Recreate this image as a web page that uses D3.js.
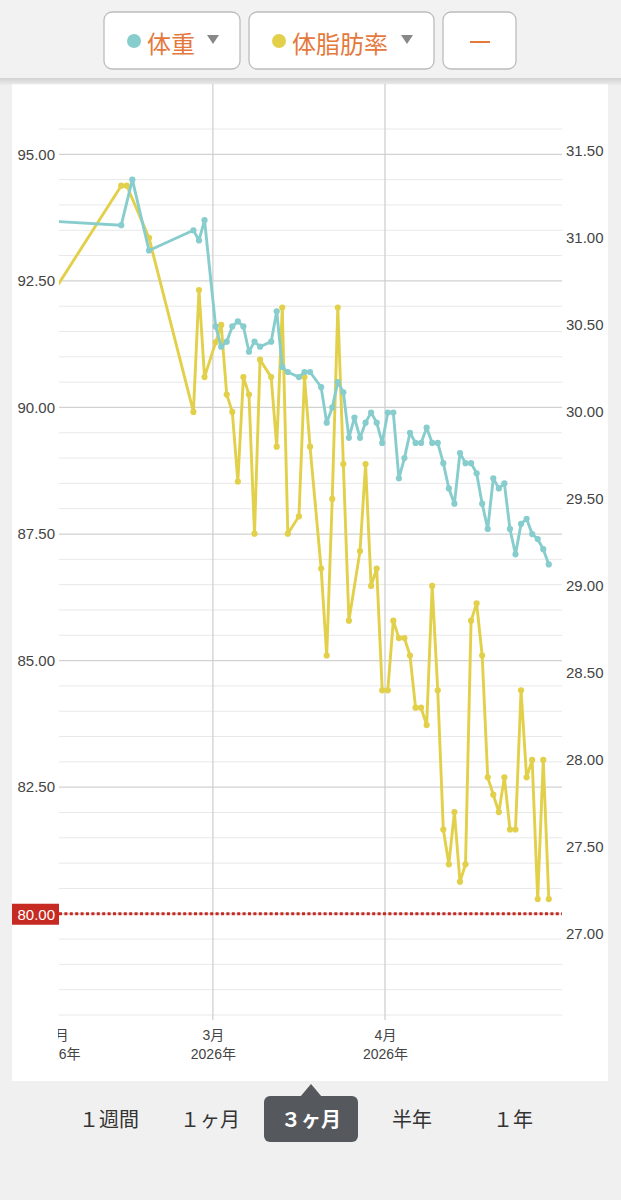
<!DOCTYPE html>
<html>
<head>
<meta charset="utf-8">
<script src="https://cdn.jsdelivr.net/npm/d3@7"></script>
<style>
html, body { margin: 0; padding: 0; background: #f0f0f0; }
svg { display: block; }
</style>
</head>
<body>
<div id="chart"></div>
<script>
// weight (kg), one reading a day
const weightDates = ["2026-01-27","2026-02-12","2026-02-14","2026-02-17","2026-02-25","2026-02-26","2026-02-27",
  "2026-03-01","2026-03-02","2026-03-03","2026-03-04","2026-03-05","2026-03-06","2026-03-07","2026-03-08","2026-03-09",
  "2026-03-11","2026-03-12","2026-03-13","2026-03-14","2026-03-16","2026-03-17","2026-03-18","2026-03-20","2026-03-21",
  "2026-03-22","2026-03-23","2026-03-24","2026-03-25","2026-03-26","2026-03-27","2026-03-28","2026-03-29","2026-03-30",
  "2026-03-31","2026-04-01","2026-04-02","2026-04-03","2026-04-04","2026-04-05","2026-04-06","2026-04-07","2026-04-08",
  "2026-04-09","2026-04-10","2026-04-11","2026-04-12","2026-04-13","2026-04-14","2026-04-15","2026-04-16","2026-04-17",
  "2026-04-18","2026-04-19","2026-04-20","2026-04-21","2026-04-22","2026-04-23","2026-04-24","2026-04-25","2026-04-26",
  "2026-04-27","2026-04-28","2026-04-29","2026-04-30"]
const weightValues = [93.7,93.6,94.5,93.1,93.5,93.3,93.7,
  91.6,91.2,91.3,91.6,91.7,91.6,91.1,91.3,91.2,
  91.3,91.9,90.8,90.7,90.6,90.7,90.7,90.4,89.7,
  90.0,90.5,90.3,89.4,89.8,89.4,89.7,89.9,89.7,
  89.3,89.9,89.9,88.6,89.0,89.5,89.3,89.3,89.6,
  89.3,89.3,88.9,88.4,88.1,89.1,88.9,88.9,88.7,
  88.1,87.6,88.6,88.4,88.5,87.6,87.1,87.7,87.8,
  87.5,87.4,87.2,86.9]

// body fat (%)
const fatDates = ["2026-01-27","2026-02-12","2026-02-13","2026-02-17","2026-02-25","2026-02-26","2026-02-27",
  "2026-03-01","2026-03-02","2026-03-03","2026-03-04","2026-03-05","2026-03-06","2026-03-07","2026-03-08","2026-03-09",
  "2026-03-11","2026-03-12","2026-03-13","2026-03-14","2026-03-16","2026-03-17","2026-03-18","2026-03-20","2026-03-21",
  "2026-03-22","2026-03-23","2026-03-24","2026-03-25","2026-03-27","2026-03-28","2026-03-29","2026-03-30",
  "2026-03-31","2026-04-01","2026-04-02","2026-04-03","2026-04-04","2026-04-05","2026-04-06","2026-04-07","2026-04-08",
  "2026-04-09","2026-04-10","2026-04-11","2026-04-12","2026-04-13","2026-04-14","2026-04-15","2026-04-16","2026-04-17",
  "2026-04-18","2026-04-19","2026-04-20","2026-04-21","2026-04-22","2026-04-23","2026-04-24","2026-04-25","2026-04-26",
  "2026-04-27","2026-04-28","2026-04-29","2026-04-30"]
const fatValues = [30.5,31.3,31.3,31.0,30.0,30.7,30.2,
  30.4,30.5,30.1,30.0,29.6,30.2,30.1,29.3,30.3,
  30.2,29.8,30.6,29.3,29.4,30.2,29.8,29.1,28.6,
  29.5,30.6,29.7,28.8,29.2,29.7,29.0,29.1,
  28.4,28.4,28.8,28.7,28.7,28.6,28.3,28.3,28.2,
  29.0,28.4,27.6,27.4,27.7,27.3,27.4,28.8,28.9,
  28.6,27.9,27.8,27.7,27.9,27.6,27.6,28.4,27.9,
  28.0,27.2,28.0,27.2]

const leftTicks = [82.5, 85, 87.5, 90, 92.5, 95]
const rightTicks = [27, 27.5, 28, 28.5, 29, 29.5, 30, 30.5, 31, 31.5]
const monthTicks = ["2026-02-01","2026-03-01","2026-04-01"]
const targetWeight = 80
const seriesNames = ["体重", "体脂肪率"]
const seriesColours = ["#88cdcd", "#e2d04a"]
const periods = ["１週間", "１ヶ月", "３ヶ月", "半年", "１年"]
const selectedPeriod = "３ヶ月"

const W = 621, H = 1200
const plot = {left: 59, right: 562, top: 129, bottom: 1015}
const numFont = "'Liberation Sans', Arial, 'Noto Sans CJK JP', sans-serif"
const jpFont = "'Noto Sans CJK JP', 'Noto Sans', sans-serif"
const orange = "#e5793d"

let parseDay = d3.timeParse("%Y-%m-%d")
// readings are taken around midday
let atNoon = s => d3.timeHour.offset(parseDay(s), 12)

let weight = weightDates.map((d, i) => ({date: atNoon(d), v: weightValues[i]}))
let fat = fatDates.map((d, i) => ({date: atNoon(d), v: fatValues[i]}))

let x = d3.scaleTime()
    .domain([new Date(2026, 1, 1, 7), new Date(2026, 4, 2, 21)])
    .range([plot.left, plot.right])
let yLeft = d3.scaleLinear().domain([78, 95.5]).range([plot.bottom, plot.top])
let yRight = d3.scaleLinear().domain([26.534, 31.626]).range([plot.bottom, plot.top])

let svg = d3.select("#chart").append("svg")
    .attr("width", W).attr("height", H)

let defs = svg.append("defs")
defs.append("clipPath").attr("id", "plot-clip")
    .append("rect").attr("x", plot.left).attr("y", 84)
    .attr("width", plot.right - plot.left).attr("height", 940)
defs.append("clipPath").attr("id", "label-clip")
    .append("rect").attr("x", 58).attr("y", 1015).attr("width", 550).attr("height", 65)
let grad = defs.append("linearGradient").attr("id", "shadow")
    .attr("x1", 0).attr("y1", 0).attr("x2", 0).attr("y2", 1)
grad.append("stop").attr("offset", 0).attr("stop-color", "#000").attr("stop-opacity", 0.13)
grad.append("stop").attr("offset", 1).attr("stop-color", "#000").attr("stop-opacity", 0)

// background + card
svg.append("rect").attr("width", W).attr("height", H).attr("fill", "#f0f0f0")
svg.append("rect").attr("x", 12).attr("y", 84).attr("width", 596).attr("height", 997).attr("fill", "#fff")

// header
svg.append("rect").attr("width", W).attr("height", 78).attr("fill", "#f2f2f2")
svg.append("rect").attr("y", 78).attr("width", W).attr("height", 8).attr("fill", "url(#shadow)")

let buttons = [
    {x: 104, w: 136, name: seriesNames[0], colour: seriesColours[0]},
    {x: 249, w: 185, name: seriesNames[1], colour: seriesColours[1]},
    {x: 443, w: 73, name: null}
]
let btn = svg.selectAll("g.btn").data(buttons).join("g").attr("class", "btn")
btn.append("rect")
    .attr("x", d => d.x).attr("y", 12).attr("width", d => d.w).attr("height", 57)
    .attr("rx", 8).attr("fill", "#fff").attr("stroke", "#bcbcbc").attr("stroke-width", 1.3)
btn.filter(d => d.name).each(function(d){
    let g = d3.select(this)
    g.append("circle").attr("cx", d.x + 30).attr("cy", 41).attr("r", 7).attr("fill", d.colour)
    g.append("text").attr("x", d.x + 43).attr("y", 42)
        .attr("dominant-baseline", "central")
        .attr("font-family", jpFont).attr("font-size", 24).attr("fill", orange)
        .text(d.name)
    let tx = d.x + d.w - 27
    g.append("path").attr("d", `M${tx - 6},35 L${tx + 6},35 L${tx},44 Z`).attr("fill", "#888")
})
svg.append("line").attr("x1", 470).attr("x2", 490).attr("y1", 42).attr("y2", 42)
    .attr("stroke", orange).attr("stroke-width", 2)

// horizontal grid, every 0.5 kg
let gridVals = d3.range(78, 95.5001, 0.5)
svg.append("g").selectAll("line").data(gridVals).join("line")
    .attr("x1", plot.left).attr("x2", plot.right)
    .attr("y1", d => yLeft(d)).attr("y2", d => yLeft(d))
    .attr("stroke", d => (Math.abs(d % 2.5) < 1e-6 ? "#d2d2d2" : "#e8e8e8"))
    .attr("stroke-width", d => (Math.abs(d % 2.5) < 1e-6 ? 1.3 : 1))

// month lines
let months = monthTicks.map(parseDay)
svg.append("g").attr("clip-path", "url(#plot-clip)")
    .selectAll("line").data(months).join("line")
    .attr("x1", d => x(d)).attr("x2", d => x(d))
    .attr("y1", 84).attr("y2", 1020)
    .attr("stroke", "#d0d0d0").attr("stroke-width", 1.3)

// axes
let leftAxis = svg.append("g").attr("transform", `translate(${plot.left},0)`)
    .call(d3.axisLeft(yLeft).tickValues(leftTicks).tickFormat(d3.format(".2f")).tickSize(0).tickPadding(4))
let rightAxis = svg.append("g").attr("transform", `translate(${plot.right},0)`)
    .call(d3.axisRight(yRight).tickValues(rightTicks).tickFormat(d3.format(".2f")).tickSize(0).tickPadding(4))
;[leftAxis, rightAxis].forEach(a => {
    a.select(".domain").remove()
    a.selectAll("text").attr("font-family", numFont).attr("font-size", 15).attr("fill", "#444")
})

let bottomAxis = svg.append("g").attr("clip-path", "url(#label-clip)")
    .append("g").attr("transform", `translate(0,${plot.bottom})`)
    .call(d3.axisBottom(x).tickValues(months).tickSize(0).tickFormat(""))
bottomAxis.select(".domain").remove()
bottomAxis.selectAll(".tick text").each(function(d){
    let t = d3.select(this).attr("y", 0).attr("dy", null)
        .attr("font-family", numFont).attr("font-size", 14).attr("fill", "#444")
    t.append("tspan").attr("x", 0).attr("y", 25).text(d3.timeFormat("%-m")(d) + "月")
    t.append("tspan").attr("x", 0).attr("y", 44).text(d3.timeFormat("%Y")(d) + "年")
})

// target weight
let ty = yLeft(targetWeight)
svg.append("line").attr("x1", plot.left).attr("x2", plot.right)
    .attr("y1", ty).attr("y2", ty)
    .attr("stroke", "#c62a22").attr("stroke-width", 3).attr("stroke-dasharray", "3 2.4")
svg.append("rect").attr("x", 12).attr("y", ty - 10).attr("width", 47).attr("height", 21).attr("fill", "#c62a22")
svg.append("text").attr("x", 55).attr("y", ty + 1).attr("text-anchor", "end")
    .attr("dominant-baseline", "central")
    .attr("font-family", numFont).attr("font-size", 15).attr("fill", "#fff")
    .text(d3.format(".2f")(targetWeight))

// series
let layer = svg.append("g").attr("clip-path", "url(#plot-clip)")
let series = [
    {data: fat, y: yRight, colour: seriesColours[1]},
    {data: weight, y: yLeft, colour: seriesColours[0]}
]
series.forEach(s => {
    let line = d3.line().x(d => x(d.date)).y(d => s.y(d.v))
    layer.append("path").datum(s.data)
        .attr("d", line).attr("fill", "none")
        .attr("stroke", s.colour).attr("stroke-width", 2.9)
        .attr("stroke-linejoin", "round")
    layer.append("g").selectAll("circle").data(s.data).join("circle")
        .attr("cx", d => x(d.date)).attr("cy", d => s.y(d.v)).attr("r", 3.1)
        .attr("fill", s.colour)
})

// period tabs
let tabX = d3.scalePoint().domain(periods).range([109, 513])
let sx = tabX(selectedPeriod)
svg.append("path")
    .attr("d", `M${sx - 11},1097 L${sx},1084 L${sx + 11},1097 Z`).attr("fill", "#55595d")
svg.append("rect").attr("x", sx - 47).attr("y", 1096).attr("width", 94).attr("height", 46)
    .attr("rx", 6).attr("fill", "#55595d")
svg.append("g").selectAll("text").data(periods).join("text")
    .attr("x", d => tabX(d)).attr("y", 1118)
    .attr("text-anchor", "middle").attr("dominant-baseline", "central")
    .attr("font-family", jpFont).attr("font-size", 20)
    .attr("font-weight", d => d === selectedPeriod ? "bold" : "normal")
    .attr("fill", d => d === selectedPeriod ? "#fff" : "#333")
    .text(d => d)
</script>
</body>
</html>
